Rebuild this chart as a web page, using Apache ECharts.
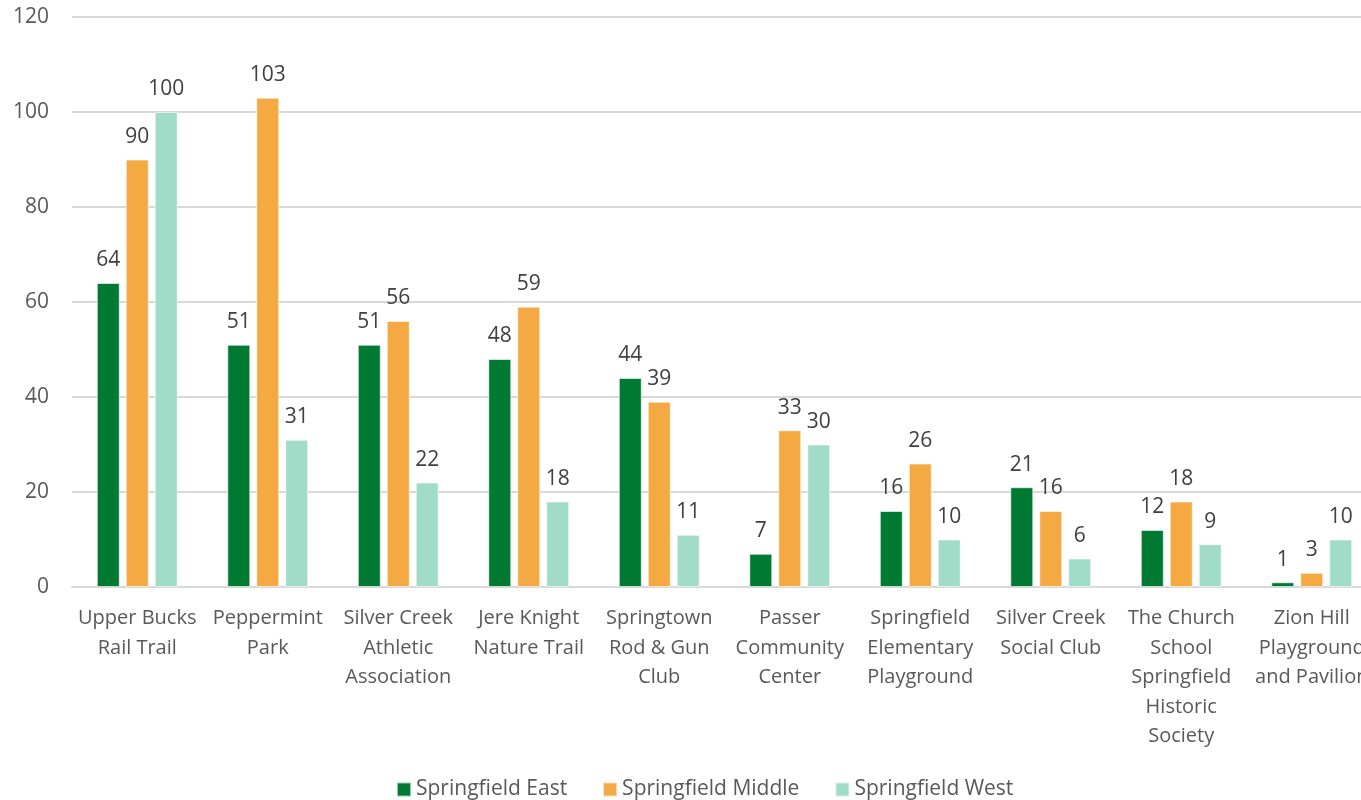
<!DOCTYPE html>
<html>
<head>
<meta charset="utf-8">
<script src="https://cdn.jsdelivr.net/npm/echarts@6/dist/echarts.min.js"></script>
<style>
html,body{margin:0;padding:0;background:#fff;}
#chart{width:1361px;height:800px;}
</style>
</head>
<body>
<div id="chart"></div>
<script>
var categories = [
  "Upper Bucks\nRail Trail",
  "Peppermint\nPark",
  "Silver Creek\nAthletic\nAssociation",
  "Jere Knight\nNature Trail",
  "Springtown\nRod & Gun\nClub",
  "Passer\nCommunity\nCenter",
  "Springfield\nElementary\nPlayground",
  "Silver Creek\nSocial Club",
  "The Church\nSchool\nSpringfield\nHistoric\nSociety",
  "Zion Hill\nPlayground\nand Pavilion"
];
var seriesNames = ["Springfield East", "Springfield Middle", "Springfield West"];
var eastValues = [64, 51, 51, 48, 44, 7, 16, 21, 12, 1];
var middleValues = [90, 103, 56, 59, 39, 33, 26, 16, 18, 3];
var westValues = [100, 31, 22, 18, 11, 30, 10, 6, 9, 10];
var yTicks = { min: 0, max: 120, interval: 20 };
var colors = ["#007A33", "#F5A943", "#A0DCC8"];

var font = "'Open Sans', 'Noto Sans', sans-serif";
function mk(name, data, color) {
  return {
    name: name,
    type: 'bar',
    data: data,
    barGap: '26%',
    barCategoryGap: '38%',
    itemStyle: { color: color, borderColor: 'rgba(255,255,255,0.6)', borderWidth: 1 },
    label: {
      show: true, position: 'top', distance: 12,
      color: '#404040', fontSize: 21, fontFamily: font
    }
  };
}
var chart = echarts.init(document.getElementById('chart'));
chart.setOption({
  animation: false,
  color: colors,
  grid: { left: 72, width: 1305, top: 17, height: 570, containLabel: false, outerBoundsMode: 'none' },
  legend: {
    top: 774, left: 391,
    itemWidth: 14, itemHeight: 14, itemGap: 35,
    icon: 'rect',
    textStyle: { color: '#595959', fontSize: 21, fontFamily: font },
    data: seriesNames
  },
  xAxis: {
    type: 'category',
    data: categories,
    axisLine: { lineStyle: { color: '#D9D9D9', width: 2 } },
    axisTick: { show: false },
    axisLabel: {
      interval: 0, color: '#595959', fontSize: 20, fontFamily: font,
      lineHeight: 29.5, margin: 17
    }
  },
  yAxis: {
    type: 'value',
    min: yTicks.min, max: yTicks.max, interval: yTicks.interval,
    axisLine: { show: false },
    axisTick: { show: false },
    splitLine: { lineStyle: { color: '#D9D9D9', width: 2 } },
    axisLabel: { color: '#595959', fontSize: 21, fontFamily: font, margin: 23 }
  },
  series: [
    mk(seriesNames[0], eastValues, colors[0]),
    mk(seriesNames[1], middleValues, colors[1]),
    mk(seriesNames[2], westValues, colors[2])
  ]
});
</script>
</body>
</html>
